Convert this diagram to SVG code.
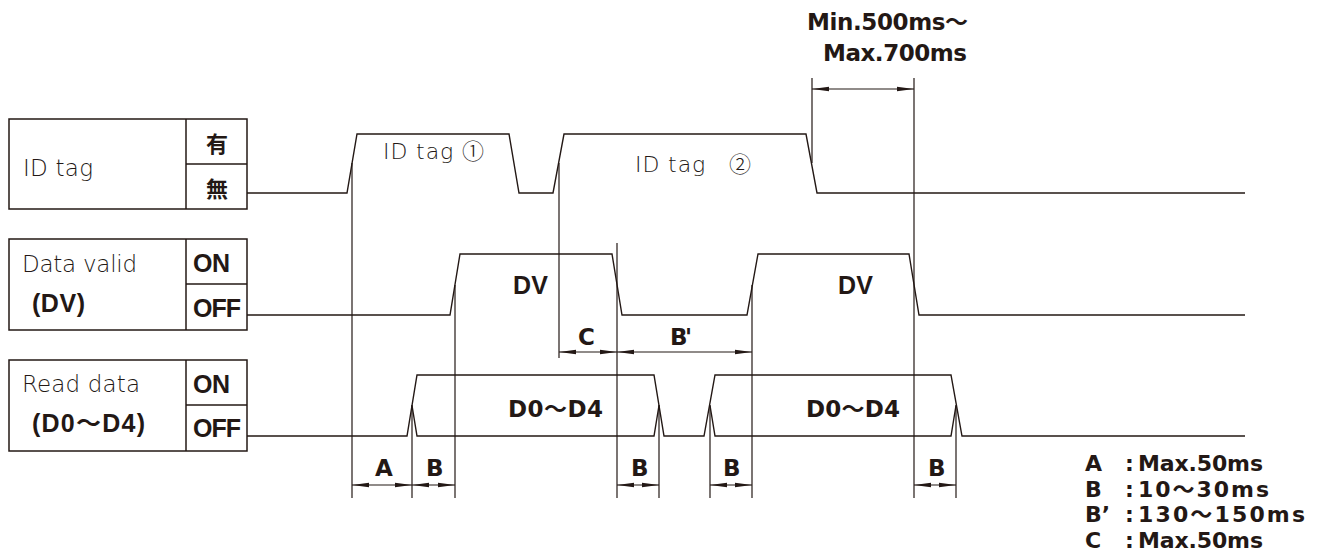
<svg xmlns="http://www.w3.org/2000/svg" width="1325" height="558" viewBox="0 0 1325 558">
<style>
  .bg{fill:#ffffff}
  .box{fill:none;stroke:#231815;stroke-width:1.5}
  .ln{fill:none;stroke:#231815;stroke-width:1.4;stroke-linejoin:miter}
  .dim{fill:none;stroke:#231815;stroke-width:1.2}
  .lt{font-family:"DejaVu Sans","Noto Sans CJK JP",sans-serif;font-weight:200;font-size:23px;fill:#231815}
  .md{font-family:"DejaVu Sans","Noto Sans CJK JP",sans-serif;font-weight:bold;font-size:23px;fill:#231815}
  .lg{font-family:"DejaVu Sans","Noto Sans CJK JP",sans-serif;font-weight:bold;font-size:22px;fill:#231815}
  .bd{font-family:"Liberation Sans","Noto Sans CJK JP",sans-serif;font-weight:bold;font-size:25px;fill:#231815}
  .jp{font-family:"Noto Sans CJK JP",sans-serif;font-weight:bold;font-size:22px;fill:#231815;text-anchor:middle}
</style>
<defs>
  <marker id="arr" viewBox="-17 -3 17 6" markerWidth="17" markerHeight="6" refX="0" refY="0" markerUnits="userSpaceOnUse" orient="auto-start-reverse">
    <path d="M0,0 L-17,-2.2 L-17,2.2 Z" fill="#231815"/>
  </marker>
</defs>
<rect class="bg" x="0" y="0" width="1325" height="558"/>

<g id="node-idtag">
  <rect class="box" x="9" y="119" width="238" height="90"/>
  <line class="box" x1="186" y1="119" x2="186" y2="209"/>
  <line class="box" x1="186" y1="164" x2="247" y2="164"/>
  <text class="lt" x="23" y="176" textLength="70">ID tag</text>
  <text class="jp" x="217" y="152">有</text>
  <text class="jp" x="217" y="197">無</text>
</g>

<g id="node-datavalid">
  <rect class="box" x="9" y="239" width="238" height="91"/>
  <line class="box" x1="186" y1="239" x2="186" y2="330"/>
  <line class="box" x1="186" y1="284" x2="247" y2="284"/>
  <text class="lt" x="22" y="272" textLength="115">Data valid</text>
  <text class="bd" x="32" y="312" textLength="53">(DV)</text>
  <text class="bd" x="193" y="272" textLength="37">ON</text>
  <text class="bd" x="193" y="317" textLength="48">OFF</text>
</g>

<g id="node-readdata">
  <rect class="box" x="9" y="360" width="238" height="91"/>
  <line class="box" x1="186" y1="360" x2="186" y2="451"/>
  <line class="box" x1="186" y1="405" x2="247" y2="405"/>
  <text class="lt" x="22" y="392" textLength="118">Read data</text>
  <text class="bd" x="32" y="432" textLength="113">(D0〜D4)</text>
  <text class="bd" x="193" y="393" textLength="37">ON</text>
  <text class="bd" x="193" y="437" textLength="48">OFF</text>
</g>

<g id="connectors">
  <polyline class="ln" points="247,193 347,193 357,134 509,134 519,193 553,193 564,134 806,134 817,193 1245,193"/>
  <polyline class="ln" points="247,315 450,315 460,254 612,254 622,315 747,315 758,254 909,254 919,315 1245,315"/>
  <path class="ln" d="M247,436 H407 L417,375 H654 L664,436 H704 L715,375 H951 L962,436 H1245"/>
  <path class="ln" d="M412,405.5 L417,436 H654 L659,405.5"/>
  <path class="ln" d="M710,405.5 L715,436 H951 L956,405.5"/>
  <line class="dim" x1="352" y1="163" x2="352" y2="498"/>
  <line class="dim" x1="559" y1="163" x2="559" y2="358"/>
  <line class="dim" x1="455" y1="285" x2="455" y2="498"/>
  <line class="dim" x1="617" y1="243" x2="617" y2="498"/>
  <line class="dim" x1="752" y1="285" x2="752" y2="498"/>
  <line class="dim" x1="914" y1="78" x2="914" y2="498"/>
  <line class="dim" x1="812" y1="78" x2="812" y2="163"/>
  <line class="dim" x1="412" y1="405" x2="412" y2="498"/>
  <line class="dim" x1="659" y1="405" x2="659" y2="498"/>
  <line class="dim" x1="710" y1="405" x2="710" y2="498"/>
  <line class="dim" x1="956" y1="405" x2="956" y2="498"/>
  <line class="dim" x1="352" y1="485" x2="412" y2="485" marker-start="url(#arr)" marker-end="url(#arr)"/>
  <line class="dim" x1="412" y1="485" x2="455" y2="485" marker-start="url(#arr)" marker-end="url(#arr)"/>
  <line class="dim" x1="617" y1="485" x2="659" y2="485" marker-start="url(#arr)" marker-end="url(#arr)"/>
  <line class="dim" x1="710" y1="485" x2="752" y2="485" marker-start="url(#arr)" marker-end="url(#arr)"/>
  <line class="dim" x1="914" y1="485" x2="956" y2="485" marker-start="url(#arr)" marker-end="url(#arr)"/>
  <line class="dim" x1="559" y1="352" x2="617" y2="352" marker-start="url(#arr)" marker-end="url(#arr)"/>
  <line class="dim" x1="617" y1="352" x2="752" y2="352" marker-start="url(#arr)" marker-end="url(#arr)"/>
  <line class="dim" x1="812" y1="89" x2="914" y2="89" marker-start="url(#arr)" marker-end="url(#arr)"/>
</g>

<g id="labels">
  <text class="lt" x="383" y="159" style="font-size:22px" textLength="101">ID tag ①</text>
  <text class="lt" x="635" y="172" style="font-size:22px" textLength="116">ID tag　②</text>
  <text class="bd" x="513" y="294" textLength="35">DV</text>
  <text class="bd" x="838" y="294" textLength="35">DV</text>
  <text class="md" x="508" y="417" textLength="95">D0〜D4</text>
  <text class="md" x="806" y="417" textLength="94">D0〜D4</text>
  <text class="md" x="375" y="476" textLength="17">A</text>
  <text class="md" x="426" y="476" textLength="14">B</text>
  <text class="md" x="631" y="476" textLength="14">B</text>
  <text class="md" x="723" y="476" textLength="14">B</text>
  <text class="md" x="928" y="476" textLength="14">B</text>
  <text class="md" x="578" y="345" textLength="16">C</text>
  <text class="md" x="670" y="345" textLength="22">B'</text>
  <text class="md" x="807" y="30" textLength="161">Min.500ms〜</text>
  <text class="md" x="823" y="61" textLength="144">Max.700ms</text>
</g>

<g id="legend">
  <text class="lg" x="1085" y="471">A</text>
  <text class="lg" x="1125" y="471">:</text>
  <text class="lg" x="1138" y="471" textLength="125">Max.50ms</text>
  <text class="lg" x="1085" y="497">B</text>
  <text class="lg" x="1125" y="497">:</text>
  <text class="lg" x="1138" y="497" textLength="131">10〜30ms</text>
  <text class="lg" x="1085" y="522">B’</text>
  <text class="lg" x="1125" y="522">:</text>
  <text class="lg" x="1138" y="522" textLength="167">130〜150ms</text>
  <text class="lg" x="1085" y="548">C</text>
  <text class="lg" x="1125" y="548">:</text>
  <text class="lg" x="1138" y="548" textLength="125">Max.50ms</text>
</g>
</svg>
